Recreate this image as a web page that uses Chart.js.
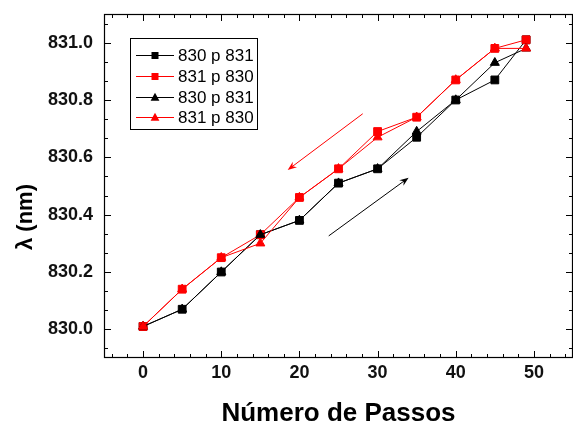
<!DOCTYPE html>
<html>
<head>
<meta charset="utf-8">
<script src="https://cdn.jsdelivr.net/npm/chart.js@4.4.0/dist/chart.umd.min.js"></script>
<style>body{margin:0;background:#fff}</style>
</head>
<body>
<canvas id="myChart" width="573" height="423"></canvas>
<script>
let passosIda = [0, 5, 10, 15, 20, 25, 30, 35, 40, 45, 49];
let passosVolta = [49, 45, 40, 35, 30, 25, 20, 15, 10, 5, 0];
let ida1 = [830.01, 830.07, 830.20, 830.33, 830.38, 830.51, 830.56, 830.67, 830.80, 830.87, 831.01];
let volta1 = [831.01, 830.98, 830.87, 830.74, 830.69, 830.56, 830.46, 830.33, 830.25, 830.14, 830.01];
let ida2 = [830.01, 830.07, 830.20, 830.33, 830.38, 830.51, 830.56, 830.69, 830.80, 830.93, 830.98];
let volta2 = [830.98, 830.98, 830.87, 830.74, 830.67, 830.56, 830.46, 830.30, 830.25, 830.14, 830.01];
let xTicks = [0, 10, 20, 30, 40, 50];
let yTicks = [830.0, 830.2, 830.4, 830.6, 830.8, 831.0];
let nomes = ['830 p 831', '831 p 830', '830 p 831', '831 p 830'];
let tituloX = 'Número de Passos';
let tituloY = 'λ (nm)';
// setas: [x inicio, y inicio, x fim, y fim]
let setaVolta = [28.1, 830.752, 18.5, 830.556];
let setaIda = [23.75, 830.326, 33.97, 830.529];

const fonte = "'Liberation Sans', Arial, sans-serif";

function pontos(xs, ys) {
    return xs.map((x, i) => ({ x: x, y: ys[i] }));
}

// ordem: a ultima serie fica por cima, como no original
function serie(label, xs, ys, cor, estilo, raio, ordem) {
    return {
        label: label,
        data: pontos(xs, ys),
        borderColor: cor,
        backgroundColor: cor,
        borderWidth: 1,
        pointStyle: estilo,
        pointRadius: raio,
        pointBorderWidth: 1,
        tension: 0,
        order: ordem
    };
}

function marcador(ctx, estilo, x, y, s, cor) {
    ctx.fillStyle = cor;
    ctx.beginPath();
    if (estilo == 'rect') {
        ctx.rect(x - s / 2, y - s / 2, s, s);
    } else {
        ctx.moveTo(x, y - s * 0.6);
        ctx.lineTo(x + s * 0.55, y + s * 0.4);
        ctx.lineTo(x - s * 0.55, y + s * 0.4);
        ctx.closePath();
    }
    ctx.fill();
}

function seta(ctx, chart, s, cor) {
    const xs = chart.scales.x, ys = chart.scales.y;
    const x0 = xs.getPixelForValue(s[0]), y0 = ys.getPixelForValue(s[1]);
    const x1 = xs.getPixelForValue(s[2]), y1 = ys.getPixelForValue(s[3]);
    const ang = Math.atan2(y1 - y0, x1 - x0);
    ctx.strokeStyle = cor;
    ctx.fillStyle = cor;
    ctx.lineWidth = 1;
    ctx.beginPath();
    ctx.moveTo(x0, y0);
    ctx.lineTo(x1 - Math.cos(ang) * 4, y1 - Math.sin(ang) * 4);
    ctx.stroke();
    ctx.beginPath();
    ctx.moveTo(x1, y1);
    ctx.lineTo(x1 - Math.cos(ang) * 9 + Math.sin(ang) * 3.5, y1 - Math.sin(ang) * 9 - Math.cos(ang) * 3.5);
    ctx.lineTo(x1 - Math.cos(ang) * 6, y1 - Math.sin(ang) * 6);
    ctx.lineTo(x1 - Math.cos(ang) * 9 - Math.sin(ang) * 3.5, y1 - Math.sin(ang) * 9 + Math.cos(ang) * 3.5);
    ctx.closePath();
    ctx.fill();
}

const moldura = {
    id: 'moldura',
    afterDatasetsDraw(chart) {
        const ctx = chart.ctx;
        ctx.save();
        seta(ctx, chart, setaVolta, '#ff0000');
        seta(ctx, chart, setaIda, '#000000');
        ctx.restore();
    },
    afterDraw(chart) {
        const ctx = chart.ctx;
        const a = chart.chartArea;
        const xs = chart.scales.x, ys = chart.scales.y;
        ctx.save();
        ctx.strokeStyle = '#000';
        ctx.lineWidth = 1.2;
        ctx.strokeRect(a.left + 0.5, a.top + 0.5, a.right - a.left - 1, a.bottom - a.top - 1);

        ctx.lineWidth = 1;
        ctx.beginPath();
        for (let v = -4; v <= 54; v += 2) {
            const px = Math.round(xs.getPixelForValue(v)) + 0.5;
            const len = v % 10 == 0 ? 7 : 4;
            ctx.moveTo(px, a.bottom); ctx.lineTo(px, a.bottom - len);
            ctx.moveTo(px, a.top); ctx.lineTo(px, a.top + len);
        }
        for (let k = -1; k <= 16; k++) {
            const v = 830 + k * 0.2 / 3;
            const py = Math.round(ys.getPixelForValue(v)) + 0.5;
            const len = k % 3 == 0 ? 7 : 4;
            ctx.moveTo(a.left, py); ctx.lineTo(a.left + len, py);
            ctx.moveTo(a.right, py); ctx.lineTo(a.right - len, py);
        }
        ctx.stroke();

        // titulos dos eixos
        ctx.fillStyle = '#000';
        ctx.font = "bold 26px " + fonte;
        ctx.textAlign = 'center';
        ctx.textBaseline = 'alphabetic';
        ctx.fillText(tituloX, (a.left + a.right) / 2, 421);
        ctx.save();
        ctx.translate(32, 217);
        ctx.rotate(-Math.PI / 2);
        ctx.font = "bold 22px " + fonte;
        ctx.fillText(tituloY, 0, 0);
        ctx.restore();

        // legenda
        ctx.fillStyle = '#fff';
        ctx.fillRect(130, 38, 128, 92);
        ctx.strokeStyle = '#000';
        ctx.lineWidth = 1;
        ctx.strokeRect(130.5, 38.5, 127, 91);
        ctx.font = "17px " + fonte;
        ctx.textAlign = 'left';
        ctx.textBaseline = 'middle';
        chart.data.datasets.forEach((d, i) => {
            const y = Math.round(55 + i * 20.8) + 0.5;
            ctx.strokeStyle = d.borderColor;
            ctx.beginPath();
            ctx.moveTo(136, y); ctx.lineTo(174, y);
            ctx.stroke();
            marcador(ctx, d.pointStyle, 155, y, d.pointStyle == 'rect' ? 7 : 8, d.backgroundColor);
            ctx.fillStyle = '#000';
            ctx.fillText(d.label, 178, y + 1);
        });
        ctx.restore();
    }
};

let ctx = document.getElementById('myChart').getContext('2d');
let chart = new Chart(ctx, {
    type: 'line',
    data: {
        datasets: [
            serie(nomes[0], passosIda, ida1, '#000000', 'rect', 5.5, 4),
            serie(nomes[1], passosVolta, volta1, '#ff0000', 'rect', 5.5, 3),
            serie(nomes[2], passosIda, ida2, '#000000', 'triangle', 5.2, 2),
            serie(nomes[3], passosVolta, volta2, '#ff0000', 'triangle', 5.2, 1)
        ]
    },
    options: {
        responsive: false,
        animation: false,
        devicePixelRatio: 1,
        layout: { autoPadding: false, padding: { top: 14, left: 0, right: 0, bottom: 0 } },
        plugins: { legend: { display: false }, tooltip: { enabled: false } },
        scales: {
            x: {
                type: 'linear',
                min: -5,
                max: 55,
                grid: { display: false, drawTicks: false },
                border: { display: false },
                afterBuildTicks: s => { s.ticks = xTicks.map(v => ({ value: v })); },
                afterFit: s => { s.height = 65; s.paddingLeft = 0; s.paddingRight = 0; },
                ticks: {
                    padding: 4,
                    maxRotation: 0,
                    autoSkip: false,
                    color: '#111',
                    font: { family: fonte, size: 18, weight: 'bold' }
                }
            },
            y: {
                min: 829.9,
                max: 831.1,
                grid: { display: false, drawTicks: false },
                border: { display: false },
                afterBuildTicks: s => { s.ticks = yTicks.map(v => ({ value: v })); },
                afterFit: s => { s.width = 104; s.paddingTop = 0; s.paddingBottom = 0; },
                ticks: {
                    padding: 11,
                    color: '#111',
                    font: { family: fonte, size: 18, weight: 'bold' },
                    callback: v => v.toFixed(1)
                }
            }
        }
    },
    plugins: [moldura]
});
</script>
</body>
</html>
